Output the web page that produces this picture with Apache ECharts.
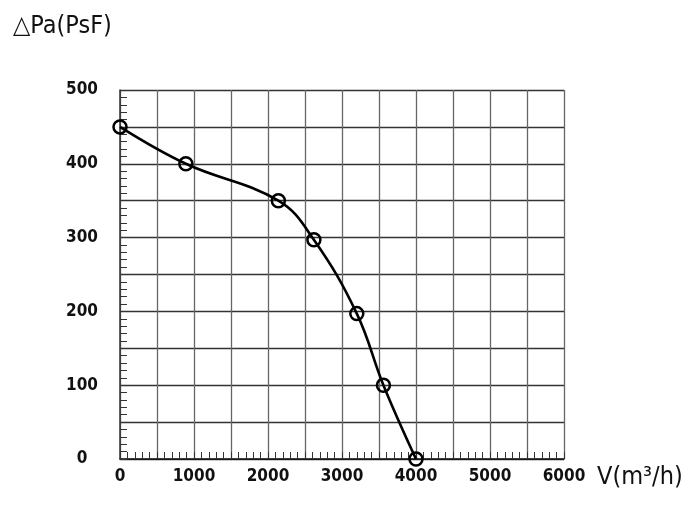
<!DOCTYPE html>
<html>
<head>
<meta charset="utf-8">
<script src="https://cdn.jsdelivr.net/npm/echarts@6/dist/echarts.min.js"></script>
<style>
html,body{margin:0;padding:0;background:#fff;}
#chart{width:700px;height:507px;}
</style>
</head>
<body>
<div id="chart"></div>
<script>
// Data
var flowValues = [0, 890, 2140, 2620, 3200, 3560, 4000];      // V (m³/h)
var pressureValues = [450, 400, 350, 297, 197, 100, 0];        // ΔPa
var xTickLabels = ['0', '1000', '2000', '3000', '4000', '5000', '6000'];
var yTickLabels = ['0', '100', '200', '300', '400', '500'];
var yTitle = '△Pa(PsF)';
var xTitle = 'V(m³/h)';

var points = flowValues.map(function (v, i) { return [v, pressureValues[i]]; });

var chart = echarts.init(document.getElementById('chart'), null, {renderer: 'canvas'});
var labelFont = '"DejaVu Sans Condensed", "DejaVu Sans", sans-serif';

chart.setOption({
  animation: false,
  backgroundColor: '#fff',
  title: [
    {text: yTitle, left: 8, top: 9,
     textStyle: {fontFamily: labelFont, fontSize: 25, fontWeight: 'normal', color: '#111'}},
    {text: xTitle, left: 592, top: 460,
     textStyle: {fontFamily: labelFont, fontSize: 25, fontWeight: 'normal', color: '#111'}}
  ],
  grid: {left: 120, right: 136, top: 90, bottom: 48, containLabel: false},
  xAxis: {
    type: 'value', min: 0, max: 6000, interval: 500,
    axisLine: {show: true, lineStyle: {color: '#111', width: 1.5}},
    axisTick: {show: true, inside: true, length: 7, lineStyle: {color: '#333'}},
    minorTick: {show: true, splitNumber: 5, length: 7, lineStyle: {color: '#333'}},
    splitLine: {show: true, lineStyle: {color: '#666', width: 1.3}},
    axisLabel: {
      margin: 9, color: '#111', fontFamily: labelFont, fontWeight: 'bold', fontSize: 17,
      formatter: function (v) { var i = xTickLabels.indexOf(String(v)); return i >= 0 ? xTickLabels[i] : ''; }
    }
  },
  yAxis: {
    type: 'value', min: 0, max: 500, interval: 50,
    axisLine: {show: true, lineStyle: {color: '#333', width: 1.5}},
    axisTick: {show: true, inside: true, length: 7, lineStyle: {color: '#333'}},
    minorTick: {show: true, splitNumber: 5, length: 7, lineStyle: {color: '#333'}},
    splitLine: {show: true, lineStyle: {color: '#333', width: 1.3}},
    axisLabel: {
      margin: 38, align: 'center', color: '#111', fontFamily: labelFont, fontWeight: 'bold', fontSize: 17,
      formatter: function (v) { var i = yTickLabels.indexOf(String(v)); return i >= 0 ? yTickLabels[i] : ''; }
    }
  },
  series: [{
    type: 'line',
    data: points,
    smooth: 0.4,
    symbol: 'circle',
    symbolSize: 13,
    showAllSymbol: true,
    lineStyle: {color: '#000', width: 2.6},
    itemStyle: {color: 'rgba(0,0,0,0)', borderColor: '#000', borderWidth: 2.5},
    z: 5
  }]
});
</script>
</body>
</html>
